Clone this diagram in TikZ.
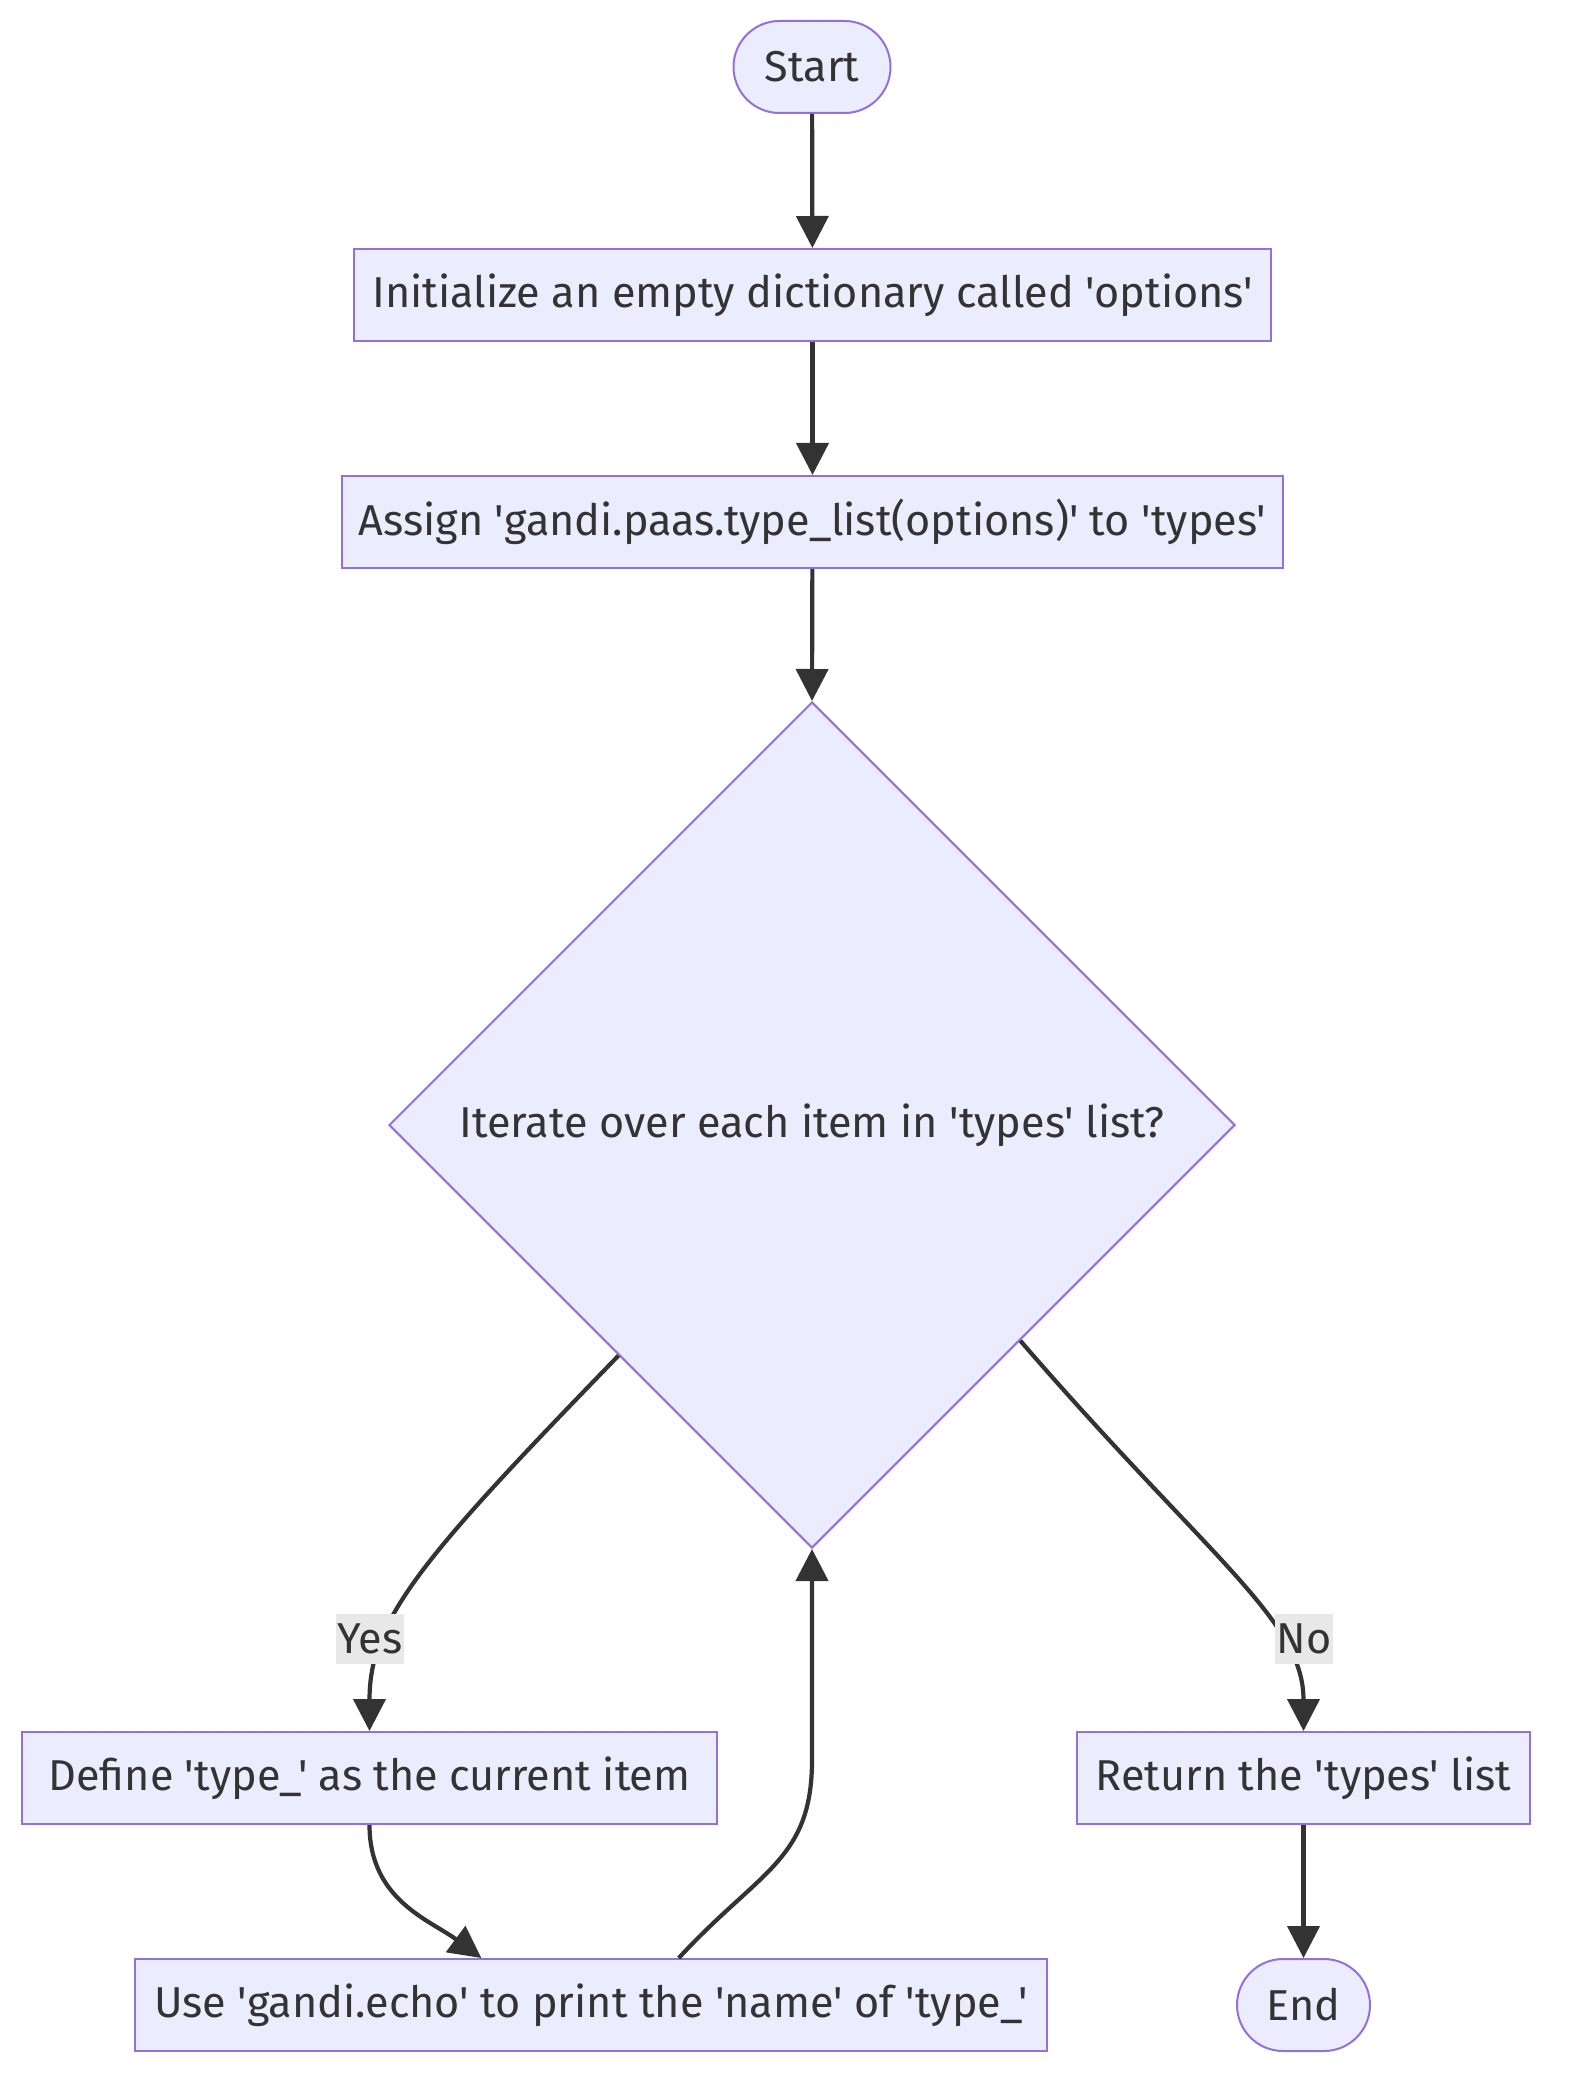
\documentclass[tikz,border=0pt]{standalone}
\usepackage{fontspec}
\setmainfont{Fira Sans}[Ligatures=TeXOff]
\usetikzlibrary{shapes.geometric,arrows.meta,calc}
\definecolor{nodefill}{HTML}{ECECFF}
\definecolor{nodeborder}{HTML}{9370DB}
\definecolor{edgecol}{HTML}{333333}
\definecolor{labelbg}{HTML}{E8E8E8}
\begin{document}
\begin{tikzpicture}[x=0.5pt,y=-0.5pt,
  every node/.style={text=edgecol, font=\fontsize{21.6}{26}\selectfont},
  box/.style={draw=nodeborder, fill=nodefill, line width=1pt, inner sep=0pt, minimum height=46pt},
  term/.style={box, rounded corners=23pt},
  decision/.style={draw=nodeborder, fill=nodefill, line width=1pt, diamond, aspect=1, inner sep=0pt, minimum width=423pt, minimum height=423pt},
  flow/.style={draw=edgecol, line width=2.1pt, -{Triangle[length=16pt,width=16pt]}},
  elabel/.style={fill=labelbg, inner xsep=1pt, inner ysep=2pt, minimum height=25pt}
]
\useasboundingbox (0,0) rectangle (1568,2096);

\node[term, minimum width=78.5pt] (start) at (812,67) {Start};
\node[box, minimum width=458.5pt] (init) at (812.5,295) {Initialize an empty dictionary called 'options'};
\node[box, minimum width=470.5pt] (assign) at (812.5,522) {Assign 'gandi.paas.type\_list(options)' to 'types'};
\node[decision] (iter) at (812,1125) {};
\node at (812,1125) {Iterate over each item in 'types' list?};
\node[box, minimum width=347.5pt] (define) at (369.5,1778) {Define 'type\_' as the current item};
\node[box, minimum width=226.5pt] (ret) at (1303.5,1778) {Return the 'types' list};
\node[box, minimum width=456pt] (use) at (591,2005) {Use 'gandi.echo' to print the 'name' of 'type\_'};
\node[term, minimum width=66.5pt] (end) at (1303.5,2005) {End};

\draw[flow] (start) -- (init);
\draw[flow] (init) -- (assign);
\draw[flow] (assign) -- (iter.north);

\draw[flow] (iter.-130) .. controls (420,1560) and (369.5,1620) .. (define.north);
\node[elabel] (yes) at (370,1639) {Yes};

\draw[flow] (iter.-46) .. controls (1210,1560) and (1303.5,1620) .. (ret.north);
\node[elabel] (no) at (1304,1639) {No};

\coordinate (usein) at ($(use.north west)!0.38!(use.north east)$);
\coordinate (useout) at ($(use.north west)!0.596!(use.north east)$);
\draw[flow] (define.south) .. controls (369.5,1900) and (430,1920) .. (usein);
\draw[flow] (useout) .. controls (760,1870) and (812,1860) .. (812,1760) -- (iter.south);

\draw[flow] (ret) -- (end);
\end{tikzpicture}
\end{document}
